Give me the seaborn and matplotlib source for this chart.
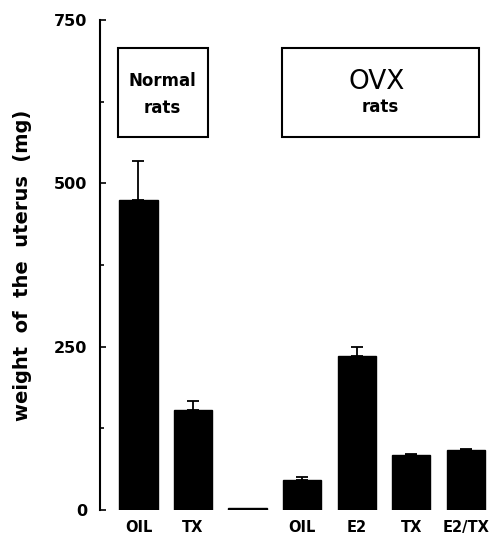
import matplotlib
matplotlib.use("Agg")
import matplotlib.pyplot as plt
from matplotlib.patches import Rectangle
from matplotlib.ticker import MultipleLocator
import seaborn as sns
import numpy as np
import pandas as pd

# ---- data ----
categories = ["OIL", "TX", "", "OIL", "E2", "TX", "E2/TX"]
values = [474, 153, 3, 46, 235, 84, 92]
errors = [60, 14, 0, 5, 15, 2, 2]
y_ticks = [0, 250, 500, 750]
group_labels = [("Normal", "rats"), ("OVX", "rats")]

sns.set_theme(style="white")
plt.rcParams['font.family'] = ['DejaVu Sans']
plt.rcParams['text.color'] = 'black'
plt.rcParams['axes.labelcolor'] = 'black'
plt.rcParams['xtick.color'] = 'black'
plt.rcParams['ytick.color'] = 'black'

fig = plt.figure(figsize=(4.94, 5.38), dpi=100)
ax = fig.add_axes([100 / 494, 28 / 538, 394 / 494, 490 / 538])

pos = list(range(len(values)))
df = pd.DataFrame({"pos": pos, "value": values})
sns.barplot(data=df, x="pos", y="value", color="black", width=0.7,
            saturation=1, ax=ax, order=pos)
for p in ax.patches:
    p.set_edgecolor("black")

err_lo = np.zeros(len(errors))
mask = [i for i, e in enumerate(errors) if e > 0]
ax.errorbar([pos[i] for i in mask], [values[i] for i in mask],
            yerr=[err_lo[mask], [errors[i] for i in mask]],
            fmt="none", ecolor="black", elinewidth=1.3, capsize=4, capthick=1.3)

ax.set_xlim(-0.706, 6.52)
ax.set_ylim(0, 750)
ax.set_yticks(y_ticks)
ax.set_yticklabels([str(t) for t in y_ticks], fontsize=11.5, fontweight="bold")
ax.yaxis.set_minor_locator(MultipleLocator(125))
ax.set_xticks(pos)
ax.set_xticklabels(categories, fontsize=10.5, fontweight="bold")
ax.tick_params(axis="x", length=0, pad=7)
ax.tick_params(axis="y", which="major", direction="in", length=4, width=1.2,
               left=True, pad=9)
ax.tick_params(axis="y", which="minor", direction="in", length=3, width=1.2, left=True)

for s in ["top", "right", "bottom"]:
    ax.spines[s].set_visible(False)
ax.spines["left"].set_color("black")
ax.spines["left"].set_linewidth(1.5)

ax.set_xlabel("")
ax.set_ylabel("weight  of  the  uterus  (mg)", fontsize=14, fontweight="bold")
ax.yaxis.set_label_coords(-0.172, 0.5)

# group boxes
ax.add_patch(Rectangle((-0.376, 571), 1.651, 136, fill=False,
                       edgecolor="black", linewidth=1.5, clip_on=False))
ax.add_patch(Rectangle((2.633, 571), 3.615, 136, fill=False,
                       edgecolor="black", linewidth=1.5, clip_on=False))
ax.text(0.44, 656, group_labels[0][0], ha="center", va="center",
        fontsize=12, fontweight="bold")
ax.text(0.44, 615, group_labels[0][1], ha="center", va="center",
        fontsize=12, fontweight="bold")
ax.text(4.37, 655, group_labels[1][0], ha="center", va="center",
        fontsize=19, fontweight="normal")
ax.text(4.43, 617, group_labels[1][1], ha="center", va="center",
        fontsize=12, fontweight="bold")

fig.savefig("out.png", dpi=100)
